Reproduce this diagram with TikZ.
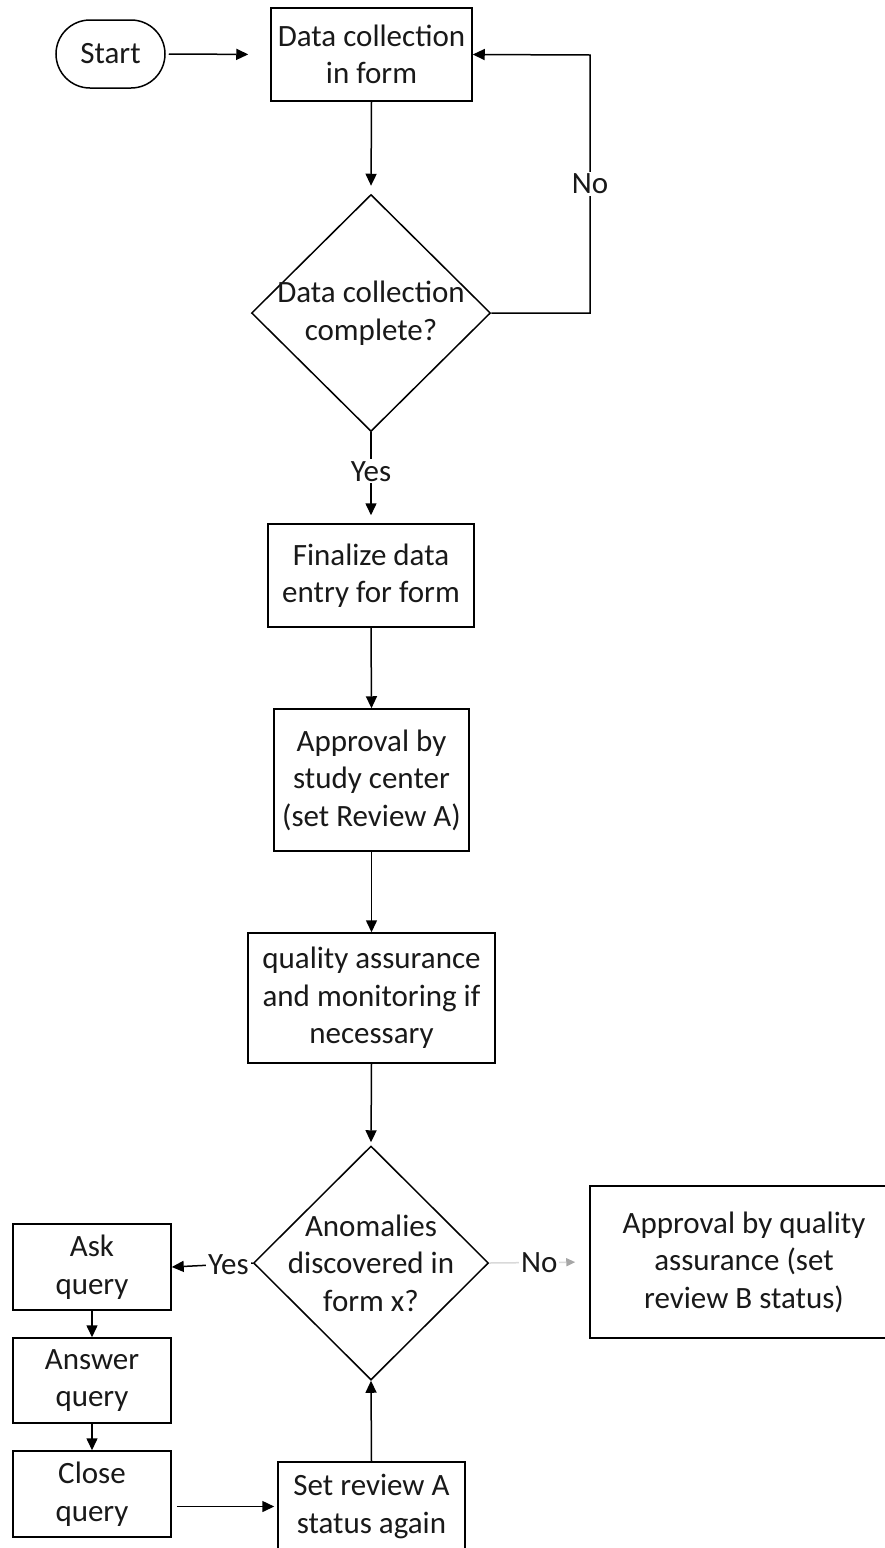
\documentclass[tikz,border=0pt]{standalone}
\usepackage{fontspec}
\setmainfont{Carlito}
\usetikzlibrary{arrows.meta,shapes.geometric}
\tikzset{
  base/.style={draw=black, line width=1.5pt, font=\fontsize{31}{37.5}\selectfont, align=center, inner sep=0pt, text=black!90},
  box/.style={base, rectangle},
  term/.style={base, rectangle, rounded corners=34pt},
  dia/.style={draw=black, line width=1.5pt, diamond, inner sep=0pt, aspect=1},
  diatext/.style={font=\fontsize{31}{37.5}\selectfont, align=center, text=black!90},
  conn/.style={line width=1.5pt, -{Triangle[length=12pt,width=11pt]}},
  faint/.style={line width=1.5pt, draw=gray!30, -{Triangle[length=9pt,width=8pt,color=gray!70]}},
  lbl/.style={font=\fontsize{31}{37.5}\selectfont, fill=white, inner sep=2pt, text=black!90}
}
\begin{document}
\begin{tikzpicture}[x=1pt,y=-1pt]
\useasboundingbox (0,0) rectangle (885,1548);
\fill[white] (0,0) rectangle (885,1548);

\node[term, minimum width=109pt, minimum height=68pt] (start) at (110.5,54) {Start};
\node[box, minimum width=201pt, minimum height=93pt] (b1) at (371.5,54.5) {Data collection\\in form};
\node[dia, minimum width=239pt, minimum height=237pt,
      label={[diatext]center:Data collection\\complete?}] (d1) at (371,313) {};
\node[box, minimum width=206pt, minimum height=103pt] (b2) at (371,575.5) {Finalize data\\entry for form};
\node[box, minimum width=195pt, minimum height=142pt] (b3) at (371.5,780) {Approval by\\study center\\(set Review A)};
\node[box, minimum width=247pt, minimum height=130pt] (b4) at (371.5,998) {quality assurance\\and monitoring if\\necessary};
\node[dia, minimum width=235pt, minimum height=234pt,
      label={[diatext]center:Anomalies\\discovered in\\form x?}] (d2) at (371,1263) {};
\node[box, minimum width=158pt, minimum height=86pt] (ask) at (92,1267) {Ask\\query};
\node[box, minimum width=158pt, minimum height=85pt] (ans) at (92,1380.5) {Answer\\query};
\node[box, minimum width=158pt, minimum height=86pt] (close) at (92,1494) {Close\\query};
\node[box, minimum width=187pt, minimum height=89pt] (setA) at (371.5,1506.5) {Set review A\\status again};
\node[box, minimum width=308pt, minimum height=152pt] (qa) at (744,1262) {Approval by quality\\assurance (set\\review B status)};

\coordinate (c1) at (590,313);
\coordinate (c2) at (590,55);

\draw[conn, shorten <=3pt, shorten >=22pt] (start.east) -- (b1.west);
\draw[conn, shorten >=8pt] (b1.south) -- (d1.north);
\draw[conn] (d1.east) -- (c1) -- node[lbl, pos=0.5]{No} (c2) -- (b1.east);
\draw[conn, shorten >=8pt] (d1.south) -- node[lbl, pos=0.43]{Yes} (b2.north);
\draw[conn] (b2.south) -- (b3.north);
\draw[conn] (b3.south) -- (b4.north);
\draw[conn, shorten >=3pt] (b4.south) -- (d2.north);
\draw[conn] (d2.west) -- node[lbl, pos=0.3]{Yes} (ask.east);
\draw[faint, shorten >=14pt] (d2.east) -- node[lbl, pos=0.5]{No} (qa.west);
\draw[conn] (ask.south) -- (ans.north);
\draw[conn] (ans.south) -- (close.north);
\draw[conn, shorten <=5pt, shorten >=3pt] (close.east|-setA.west) -- (setA.west);
\draw[conn] (setA.north) -- (d2.south);
\end{tikzpicture}
\end{document}
